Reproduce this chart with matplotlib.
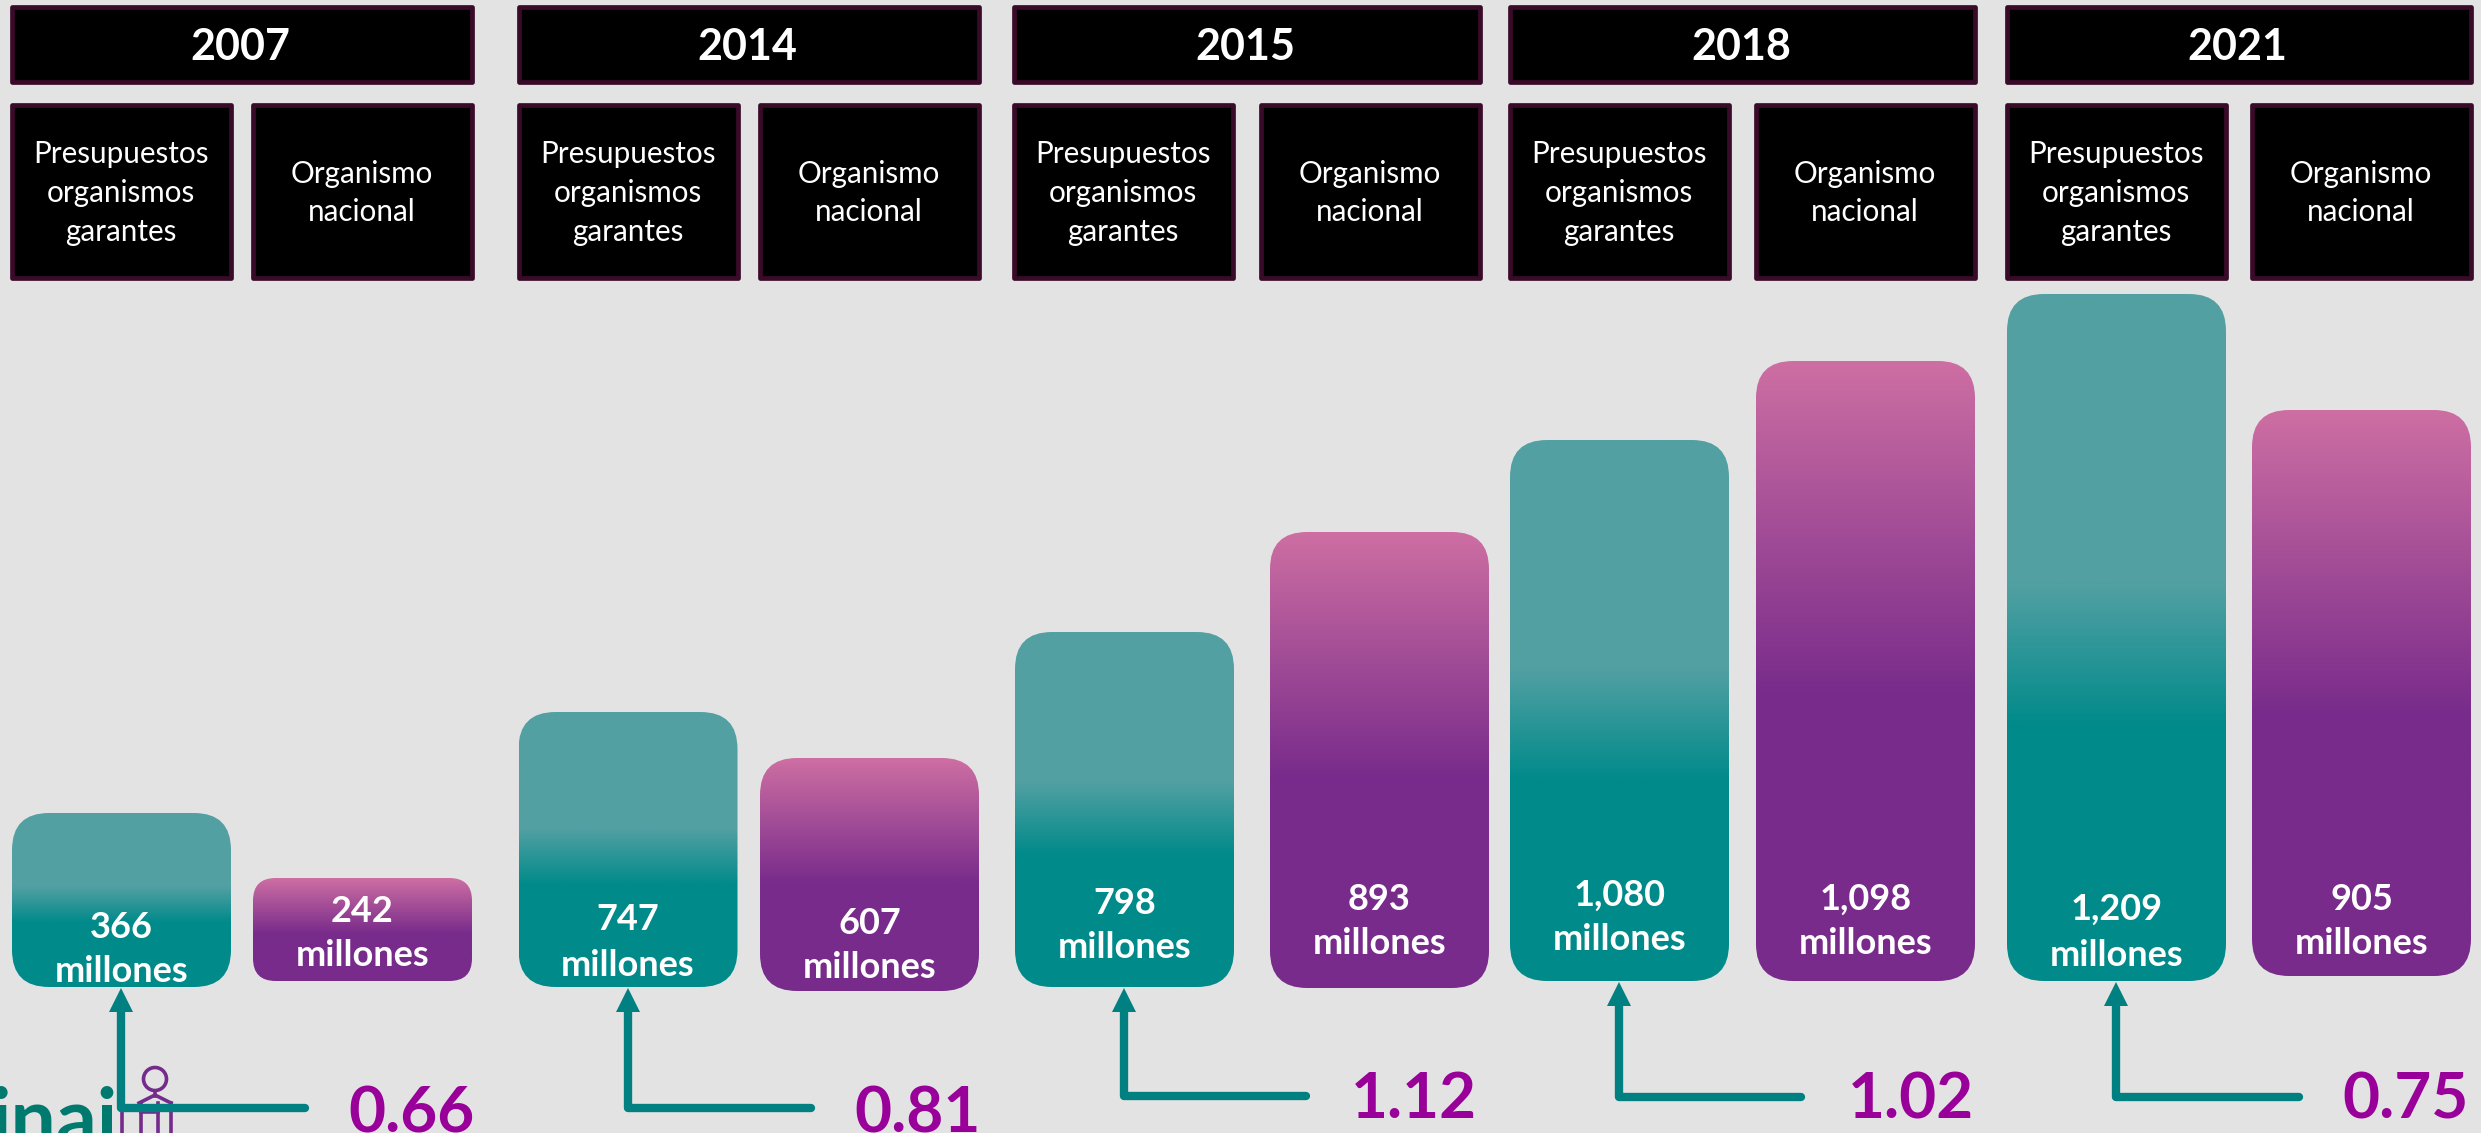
import numpy as np
import matplotlib
matplotlib.use("Agg")
import matplotlib.pyplot as plt
from matplotlib.patches import FancyBboxPatch, Rectangle, Polygon, Circle
from matplotlib.colors import to_rgb

W, H = 2481, 1133
FONT = "Lato"

# ---- data ----
years = ["2007", "2014", "2015", "2018", "2021"]
garantes_labels = ["366", "747", "798", "1,080", "1,209"]
nacional_labels = ["242", "607", "893", "1,098", "905"]
ratios = ["0.66", "0.81", "1.12", "1.02", "0.75"]
unit = "millones"
header_left = "Presupuestos\norganismos\ngarantes"
header_right = "Organismo\nnacional"

# drawn bar extents (the source infographic is not to scale), in picture units
garantes_top = [813, 712, 632, 440, 294]
garantes_bottom = [987, 987, 987, 981, 981]
nacional_top = [878, 758, 532, 361, 410]
nacional_bottom = [981, 991, 988, 981, 976]

# ---- layout ----
group_left = [9, 516, 1011, 1507, 2004]
group_right = [474, 981, 1482, 1977, 2473]
sub_w = 224
teal_x = [12, 518.5, 1015, 1510, 2007]
purple_x = [253, 760, 1270, 1756, 2252]
bar_w = 219
arrow_x = [121, 628, 1124, 1619, 2116]
arrow_end = [305, 811, 1306, 1801, 2299]
arrow_elbow = [1108, 1108, 1096, 1097, 1097]
ratio_cx = [411, 918, 1414, 1911, 2405]
ratio_cy = [1114, 1114, 1100, 1100, 1100]
g_num_y = [927, 920, 903, 895, 909]
g_mil_y = [972, 965, 948, 939, 956]
n_num_y = [911, 924, 899, 899, 899]
n_mil_y = [955, 967, 943, 943, 943]

BG = "#E3E3E3"
BORDER = "#3A0B28"
TEAL = "#008080"
VALUE = "#990099"
TEAL_STOPS = [(0.0, "#53A0A3"), (0.42, "#53A0A3"), (0.63, "#008A8A"), (1.0, "#008A8A")]
PURPLE_STOPS = [(0.0, "#CE6FA3"), (0.54, "#782B8B"), (1.0, "#782B8B")]

fig = plt.figure(figsize=(W / 100, H / 100), dpi=100, facecolor=BG)
ax = fig.add_axes([0, 0, 1, 1])
ax.set_facecolor(BG)
ax.axis("off")


def gradient_bar(x0, x1, top, bottom, stops, radius):
    n = 512
    pos = np.linspace(0, 1, n)
    rgb = [to_rgb(c) for _, c in stops]
    s = [p for p, _ in stops]
    arr = np.stack([np.interp(pos, s, [c[i] for c in rgb]) for i in range(3)], axis=1)[:, None, :]
    im = ax.imshow(arr, extent=(x0, x1, bottom, top), origin="upper", aspect="auto",
                   interpolation="bilinear", zorder=2)
    patch = FancyBboxPatch((x0, top), x1 - x0, bottom - top,
                           boxstyle=f"round,pad=0,rounding_size={radius}",
                           fc="none", ec="none", transform=ax.transData)
    ax.add_patch(patch)
    im.set_clip_path(patch)


def header_box(x0, x1, y0, y1):
    ins = 2.5
    ax.add_patch(Rectangle((x0 + ins, y0 + ins), x1 - x0 - 2 * ins, y1 - y0 - 2 * ins,
                           fc="black", ec=BORDER, lw=3.4, joinstyle="round", zorder=2))


for i, year in enumerate(years):
    gl, gr = group_left[i], group_right[i]
    header_box(gl, gr, 4, 84)
    header_box(gl, gl + sub_w, 102, 280)
    header_box(gr - sub_w, gr, 102, 280)
    ax.text((gl + gr) / 2 - 1, 47, year, color="white", fontsize=31, fontweight="bold",
            family=FONT, ha="center", va="center", zorder=3)
    ax.text(gl + sub_w / 2, 193, header_left, color="white", fontsize=21.3, family=FONT,
            ha="center", va="center", linespacing=1.46, zorder=3)
    ax.text(gr - sub_w / 2, 193, header_right, color="white", fontsize=21.3, family=FONT,
            ha="center", va="center", linespacing=1.46, zorder=3)

    # bars
    for x0, top, bottom, stops in ((teal_x[i], garantes_top[i], garantes_bottom[i], TEAL_STOPS),
                                   (purple_x[i], nacional_top[i], nacional_bottom[i], PURPLE_STOPS)):
        gradient_bar(x0, x0 + bar_w, top, bottom, stops, min(37, 0.22 * (bottom - top)))

    # bar labels
    for cx, num, ny, my in ((teal_x[i] + bar_w / 2, garantes_labels[i], g_num_y[i], g_mil_y[i]),
                            (purple_x[i] + bar_w / 2, nacional_labels[i], n_num_y[i], n_mil_y[i])):
        ax.text(cx, ny, num, color="white", fontsize=26, fontweight="bold", family=FONT,
                ha="center", va="center", zorder=4)
        ax.text(cx, my, unit, color="white", fontsize=26, fontweight="bold", family=FONT,
                ha="center", va="center", zorder=4)

# logo (partly cut by the lower edge)
ax.text(-10, 1146, "inai", color="#007A6E", fontsize=58, fontweight="bold", family=FONT,
        ha="left", va="baseline", zorder=3, clip_on=True)
LOGO = "#742B8B"
ax.add_patch(Circle((155, 1079), 11.5, fc="none", ec=LOGO, lw=2.6, zorder=3))
ax.plot([155, 155], [1091, 1096], color=LOGO, lw=2.6, zorder=3)
ax.plot([139, 155, 171], [1103, 1095, 1103], color=LOGO, lw=2.6, zorder=3)
for lx in (122, 141, 158, 171):
    ax.plot([lx, lx], [1103, 1140], color=LOGO, lw=2.6, zorder=3)
ax.plot([141, 158], [1112, 1112], color=LOGO, lw=2.6, zorder=3)

# arrows + ratios
for i, r in enumerate(ratios):
    x, end, elbow = arrow_x[i], arrow_end[i], arrow_elbow[i]
    tip = garantes_bottom[i] + 1
    base = tip + 24
    ax.plot([x, x, end], [base, elbow, elbow], color=TEAL, lw=6.0, solid_joinstyle="round",
            solid_capstyle="round", zorder=5)
    ax.add_patch(Polygon([(x, tip), (x - 12, base), (x + 12, base)], closed=True, fc=TEAL,
                         ec="none", zorder=5))
    ax.text(ratio_cx[i], ratio_cy[i], r, color=VALUE, fontsize=46, fontweight="bold", family=FONT,
            ha="center", va="center", zorder=5)

ax.set_xlim(0, W)
ax.set_ylim(H, 0)
fig.savefig("out.png", dpi=100, facecolor=BG)
